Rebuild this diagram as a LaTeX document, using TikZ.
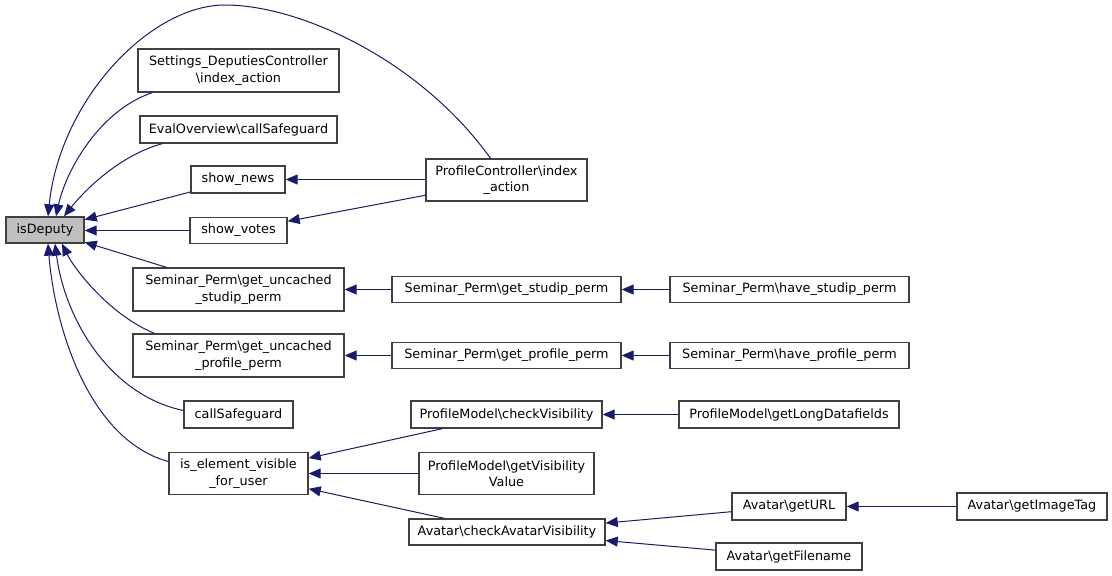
\documentclass[tikz,border=0pt]{standalone}
\usepackage{fontspec}
\setmainfont{DejaVu Sans}
\usetikzlibrary{arrows.meta,calc}
\definecolor{edgeblue}{HTML}{191970}
\definecolor{boxgray}{HTML}{BFBFBF}
\definecolor{boxline}{HTML}{404040}
\tikzset{
  fnbox/.style={draw=boxline, line width=1.4pt, fill=white, inner sep=0pt,
    align=center, text=black, font=\fontsize{12.8}{16.5}\selectfont},
  callee/.style={fnbox, fill=boxgray},
  calledge/.style={draw=edgeblue, line width=1pt, -{Triangle[length=12pt,width=10pt]}}
}
\begin{document}
\begin{tikzpicture}[x=1pt,y=-1pt]
\useasboundingbox[fill=white] (0,0) rectangle (1112,576);
% column 1
\node[callee, minimum width=78, minimum height=26] (isd) at (45,230) {isDeputy};
% column 2
\node[fnbox, minimum width=201, minimum height=43] (sdc) at (238.5,70.5) {Settings\_DeputiesController\\\textbackslash index\_action};
\node[fnbox, minimum width=197, minimum height=27] (eval) at (238.5,129.5) {EvalOverview\textbackslash callSafeguard};
\node[fnbox, minimum width=94, minimum height=27] (news) at (238,179.5) {show\_news};
\node[fnbox, minimum width=97, minimum height=26] (votes) at (238.5,230.5) {show\_votes};
\node[fnbox, minimum width=211, minimum height=43] (gus) at (238.5,289.5) {Seminar\_Perm\textbackslash get\_uncached\\\_studip\_perm};
\node[fnbox, minimum width=211, minimum height=43] (gup) at (238.5,355.5) {Seminar\_Perm\textbackslash get\_uncached\\\_profile\_perm};
\node[fnbox, minimum width=109, minimum height=27] (cs) at (238.5,414.5) {callSafeguard};
\node[fnbox, minimum width=139, minimum height=42] (iev) at (238.5,473.5) {is\_element\_visible\\\_for\_user};
% column 3
\node[fnbox, minimum width=161, minimum height=42] (pc) at (506.5,180) {ProfileController\textbackslash index\\\_action};
\node[fnbox, minimum width=229, minimum height=26] (gsp) at (506.5,289.5) {Seminar\_Perm\textbackslash get\_studip\_perm};
\node[fnbox, minimum width=229, minimum height=26] (gpp) at (506.5,355.5) {Seminar\_Perm\textbackslash get\_profile\_perm};
\node[fnbox, minimum width=191, minimum height=27] (cv) at (506.5,414.5) {ProfileModel\textbackslash checkVisibility};
\node[fnbox, minimum width=175, minimum height=42] (gvv) at (506.5,473.5) {ProfileModel\textbackslash getVisibility\\Value};
\node[fnbox, minimum width=196, minimum height=26] (cav) at (507,532) {Avatar\textbackslash checkAvatarVisibility};
% column 4
\node[fnbox, minimum width=239, minimum height=26] (hsp) at (789.5,289.5) {Seminar\_Perm\textbackslash have\_studip\_perm};
\node[fnbox, minimum width=239, minimum height=26] (hpp) at (789.5,355.5) {Seminar\_Perm\textbackslash have\_profile\_perm};
\node[fnbox, minimum width=220, minimum height=27] (gld) at (789,414.5) {ProfileModel\textbackslash getLongDatafields};
\node[fnbox, minimum width=114, minimum height=27] (url) at (789,506.5) {Avatar\textbackslash getURL};
\node[fnbox, minimum width=146, minimum height=27] (fname) at (789,556.5) {Avatar\textbackslash getFilename};
% column 5
\node[fnbox, minimum width=150, minimum height=27] (itag) at (1032,506.5) {Avatar\textbackslash getImageTag};

% curved edges into isDeputy
\draw[calledge] ($(pc.north)+(-16,0)$) .. controls (420,60) and (300,5) .. (225,5)
   .. controls (150,5) and (60,100) .. ($(isd.north)+(3,0)$);
\draw[calledge] ($(sdc.south west)+(15,0)$) .. controls (100,110) and (66,170) .. ($(isd.north)+(11,0)$);
\draw[calledge] ($(eval.south west)+(23,0)$) .. controls (120,155) and (85,190) .. ($(isd.north)+(19,0)$);
\draw[calledge] ($(gup.north west)+(22,0)$) .. controls (110,315) and (75,270) .. ($(isd.south)+(17,0)$);
\draw[calledge] ($(cs.west)+(0,-4)$) .. controls (110,395) and (65,320) .. ($(isd.south)+(10,0)$);
\draw[calledge] ($(iev.west)+(0,-12)$) .. controls (90,440) and (55,330) .. ($(isd.south)+(3,0)$);
% straight edges
\draw[calledge] (news) -- (isd);
\draw[calledge] (votes.west) -- (isd.east |- votes.west);
\draw[calledge] (gus) -- (isd);
\draw[calledge] (pc.west |- news.east) -- (news.east);
\draw[calledge] (pc) -- (votes);
\draw[calledge] (gsp) -- (gus);
\draw[calledge] (hsp) -- (gsp);
\draw[calledge] (gpp) -- (gup);
\draw[calledge] (hpp) -- (gpp);
\draw[calledge] (cv) -- (iev);
\draw[calledge] (gvv) -- (iev);
\draw[calledge] (cav) -- (iev);
\draw[calledge] (gld) -- (cv);
\draw[calledge] (url) -- (cav);
\draw[calledge] (fname) -- (cav);
\draw[calledge] (itag) -- (url);
\end{tikzpicture}
\end{document}
